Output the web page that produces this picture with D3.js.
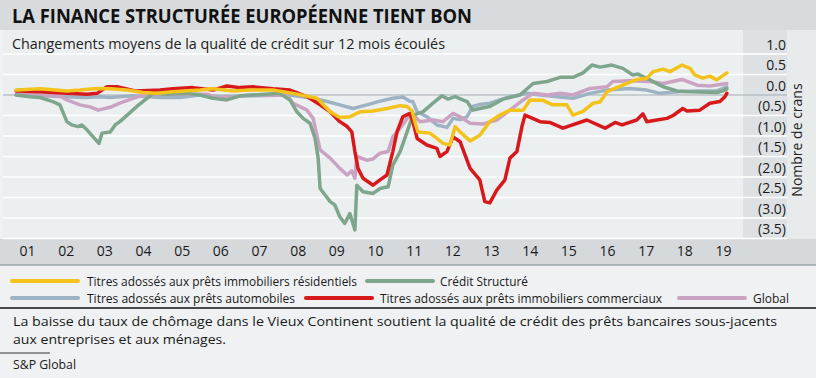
<!DOCTYPE html>
<html>
<head>
<meta charset="utf-8">
<script src="https://cdn.jsdelivr.net/npm/d3@7"></script>
<style>
  body { margin: 0; background: #eff1f2; }
  svg { display: block; font-family: "Open Sans", "Noto Sans", sans-serif; }
</style>
</head>
<body>
<div id="chart"></div>
<script>
// years shown on the x axis
const years = d3.range(2001, 2020);
const yTicks = [1.0, 0.5, 0.0, -0.5, -1.0, -1.5, -2.0, -2.5, -3.0, -3.5];

// [decimal year, change in notches]
const residentiels = [[2000.72,0.12],[2001.34,0.15],[2002.03,0.1],[2002.37,0.12],[2002.81,0.16],[2003.15,0.15],[2003.59,0.12],[2004.0,0.06],[2004.36,0.04],[2004.78,0.08],[2005.47,0.12],[2005.81,0.15],[2006.33,0.1],[2006.77,0.12],[2007.36,0.12],[2007.88,0.04],[2008.5,-0.08],[2008.84,-0.41],[2009.09,-0.55],[2009.35,-0.53],[2009.61,-0.41],[2009.95,-0.39],[2010.31,-0.33],[2010.65,-0.26],[2010.83,-0.28],[2010.96,-0.39],[2011.03,-0.65],[2011.11,-0.9],[2011.42,-0.93],[2011.6,-1.06],[2011.76,-1.18],[2011.94,-1.22],[2012.07,-0.77],[2012.2,-0.9],[2012.46,-1.12],[2012.71,-0.98],[2012.97,-0.65],[2013.23,-0.49],[2013.49,-0.37],[2013.83,-0.37],[2014.01,-0.12],[2014.34,-0.13],[2014.6,-0.24],[2014.96,-0.24],[2015.12,-0.49],[2015.38,-0.4],[2015.64,-0.2],[2015.82,-0.17],[2016.0,0.08],[2016.41,0.24],[2016.77,0.38],[2017.03,0.41],[2017.19,0.57],[2017.45,0.63],[2017.63,0.57],[2017.94,0.73],[2018.15,0.65],[2018.27,0.49],[2018.48,0.41],[2018.66,0.46],[2018.84,0.37],[2019.1,0.54]];

const credit = [[2000.72,0],[2001.08,-0.04],[2001.34,-0.06],[2001.67,-0.16],[2001.85,-0.24],[2002.03,-0.65],[2002.16,-0.73],[2002.32,-0.77],[2002.42,-0.73],[2002.55,-0.85],[2002.71,-1.02],[2002.86,-1.18],[2002.94,-0.93],[2003.15,-0.9],[2003.28,-0.73],[2003.4,-0.65],[2003.59,-0.49],[2003.84,-0.28],[2004.1,-0.08],[2004.26,0.04],[2004.62,0.02],[2005.14,0.04],[2005.47,0],[2005.81,-0.08],[2006.17,-0.12],[2006.51,-0.02],[2007.54,0.04],[2007.8,-0.12],[2007.98,-0.41],[2008.14,-0.57],[2008.32,-0.69],[2008.45,-1.06],[2008.53,-1.54],[2008.58,-2.28],[2008.71,-2.44],[2008.84,-2.6],[2008.96,-2.68],[2009.09,-2.97],[2009.22,-3.13],[2009.35,-2.89],[2009.48,-3.29],[2009.53,-2.2],[2009.69,-2.36],[2009.95,-2.4],[2010.13,-2.28],[2010.34,-2.24],[2010.46,-1.71],[2010.65,-1.38],[2010.83,-0.9],[2010.98,-0.49],[2011.24,-0.41],[2011.5,-0.2],[2011.73,-0.02],[2011.89,-0.1],[2012.07,-0.04],[2012.38,-0.16],[2012.53,-0.37],[2012.71,-0.33],[2012.97,-0.28],[2013.31,-0.1],[2013.75,0],[2014.09,0.28],[2014.45,0.33],[2014.79,0.43],[2015.12,0.43],[2015.38,0.54],[2015.61,0.73],[2015.82,0.68],[2016.13,0.73],[2016.41,0.65],[2016.67,0.49],[2016.8,0.51],[2017.11,0.37],[2017.45,0.2],[2017.81,0.1],[2018.15,0.08],[2018.84,0.06],[2019.0,0.1],[2019.1,0.15]];

const automobiles = [[2000.72,0],[2001.34,-0.02],[2002.03,-0.04],[2002.45,-0.06],[2002.89,-0.04],[2003.15,-0.06],[2003.74,-0.02],[2004.44,-0.06],[2004.96,-0.06],[2005.47,0],[2005.99,-0.04],[2006.77,-0.02],[2007.8,0],[2008.4,-0.08],[2008.76,-0.16],[2009.09,-0.24],[2009.43,-0.33],[2009.79,-0.24],[2010.13,-0.15],[2010.46,-0.08],[2010.72,-0.05],[2010.9,-0.15],[2010.98,-0.16],[2011.09,-0.41],[2011.34,-0.53],[2011.6,-0.73],[2011.86,-0.79],[2012.02,-0.57],[2012.2,-0.6],[2012.38,-0.53],[2012.53,-0.28],[2012.71,-0.23],[2012.97,-0.2],[2013.49,-0.04],[2013.93,0.04],[2014.27,0],[2014.71,-0.04],[2015.12,-0.08],[2015.56,0.04],[2016.0,0.12],[2016.59,0.16],[2017.03,0.12],[2017.37,0.04],[2017.81,0.08],[2018.33,0.1],[2018.84,0.1],[2019.1,0.2]];

const commerciaux = [[2000.72,0.1],[2001.34,0.08],[2002.03,0.04],[2002.55,0.02],[2002.81,0.04],[2003.07,0.2],[2003.33,0.2],[2003.8,0.1],[2004.44,0.12],[2004.78,0.15],[2005.29,0.18],[2005.81,0.12],[2006.17,0.22],[2006.51,0.18],[2006.84,0.2],[2007.36,0.15],[2007.8,0.12],[2008.24,-0.04],[2008.58,-0.24],[2008.84,-0.41],[2009.09,-0.65],[2009.28,-0.77],[2009.4,-0.9],[2009.48,-1.38],[2009.56,-1.79],[2009.69,-2.03],[2009.95,-2.2],[2010.13,-2.07],[2010.31,-1.95],[2010.46,-1.38],[2010.57,-0.9],[2010.72,-0.53],[2010.9,-0.45],[2010.98,-0.65],[2011.09,-1.06],[2011.34,-1.22],[2011.6,-1.3],[2011.68,-1.5],[2011.86,-1.38],[2012.02,-1.02],[2012.2,-1.14],[2012.46,-1.79],[2012.71,-2.07],[2012.84,-2.6],[2012.97,-2.63],[2013.15,-2.32],[2013.36,-2.07],[2013.49,-1.54],[2013.67,-1.38],[2013.8,-0.77],[2013.88,-0.49],[2014.27,-0.65],[2014.52,-0.67],[2014.86,-0.81],[2015.48,-0.61],[2015.95,-0.81],[2016.21,-0.67],[2016.39,-0.73],[2016.77,-0.61],[2016.93,-0.46],[2017.03,-0.65],[2017.29,-0.61],[2017.55,-0.57],[2017.71,-0.5],[2017.96,-0.33],[2018.07,-0.39],[2018.4,-0.37],[2018.66,-0.2],[2018.92,-0.16],[2019.05,-0.04],[2019.1,0.04]];

const global = [[2000.72,0.02],[2001.34,0],[2001.85,-0.02],[2002.03,-0.12],[2002.37,-0.24],[2002.63,-0.29],[2002.84,-0.37],[2003.15,-0.3],[2003.4,-0.2],[2003.74,-0.08],[2004.1,0.02],[2004.78,0.02],[2005.65,0.02],[2005.91,-0.06],[2006.33,-0.05],[2006.77,0],[2007.72,0],[2007.88,-0.2],[2008.24,-0.37],[2008.4,-0.57],[2008.58,-1.34],[2008.84,-1.54],[2009.09,-1.79],[2009.28,-1.95],[2009.4,-1.85],[2009.48,-2.03],[2009.53,-1.5],[2009.79,-1.59],[2009.95,-1.56],[2010.13,-1.42],[2010.34,-1.38],[2010.46,-1.02],[2010.65,-0.81],[2010.83,-0.57],[2010.96,-0.45],[2011.16,-0.65],[2011.5,-0.61],[2011.76,-0.65],[2012.02,-0.45],[2012.2,-0.53],[2012.46,-0.69],[2012.79,-0.71],[2013.15,-0.61],[2013.49,-0.37],[2013.83,-0.12],[2014.09,0.04],[2014.45,0],[2014.79,0.04],[2015.12,0],[2015.56,0.16],[2016.0,0.2],[2016.15,0.33],[2016.59,0.35],[2017.11,0.33],[2017.45,0.28],[2017.94,0.38],[2018.33,0.24],[2018.66,0.22],[2019.1,0.28]];

const seriesNames = ["Titres adossés aux prêts automobiles", "Global", "Crédit Structuré", "Titres adossés aux prêts immobiliers commerciaux", "Titres adossés aux prêts immobiliers résidentiels"];
const seriesData = [automobiles, global, credit, commerciaux, residentiels];
const seriesColors = ["#9db3c3", "#caa3c2", "#7ea68d", "#d7191c", "#f3c21b"];

const width = 816, height = 378;
const plotLeft = 3, panelLeft = 743, panelRight = 787;

const svg = d3.select("#chart").append("svg")
    .attr("width", width)
    .attr("height", height);

const x = d3.scaleLinear().domain([2000.5, 2019.5]).range([7.7, 742.3]);
const y = d3.scaleLinear().domain([-3.5, 1.0]).range([238.5, 54]);

// backgrounds
svg.append("rect").attr("width", width).attr("height", height).attr("fill", "#eff1f2");
svg.append("rect").attr("x", plotLeft).attr("y", 30).attr("width", panelLeft - plotLeft).attr("height", 209).attr("fill", "#eceff0");
svg.append("rect").attr("x", panelLeft).attr("y", 30).attr("width", panelRight - panelLeft).attr("height", 209).attr("fill", "#dde1e3");
svg.append("rect").attr("x", panelRight).attr("y", 30).attr("width", width - panelRight).attr("height", 209).attr("fill", "#e8ebec");
svg.append("rect").attr("width", width).attr("height", 30).attr("fill", "#d7dbdd");
svg.append("rect").attr("x", 0).attr("y", 239).attr("width", width).attr("height", 26).attr("fill", "#d5d9db");
svg.append("line").attr("x1", 0).attr("x2", width).attr("y1", 265).attr("y2", 265)
    .attr("stroke", "#9ca4a9").attr("stroke-width", 1.5);

// titles
svg.append("text").attr("x", 12).attr("y", 23)
    .attr("font-size", 20).attr("font-weight", "bold").attr("fill", "#111")
    .attr("textLength", 460).attr("lengthAdjust", "spacingAndGlyphs")
    .text("LA FINANCE STRUCTURÉE EUROPÉENNE TIENT BON");
svg.append("text").attr("x", 12).attr("y", 49)
    .attr("font-size", 14).attr("fill", "#222")
    .attr("textLength", 433).attr("lengthAdjust", "spacingAndGlyphs")
    .text("Changements moyens de la qualité de crédit sur 12 mois écoulés");

// grid
svg.append("g").selectAll("line")
    .data(yTicks)
    .join("line")
    .attr("x1", plotLeft).attr("x2", panelRight)
    .attr("y1", d => y(d)).attr("y2", d => y(d))
    .attr("stroke", d => d === 0 ? "#a3acb1" : "#ffffff")
    .attr("stroke-width", d => d === 0 ? 1 : 1.5);

// y axis on the right, labels sit above their grid line
const yAxis = svg.append("g")
    .attr("transform", `translate(${panelRight - 1},0)`)
    .call(d3.axisLeft(y).tickValues(yTicks).tickSize(0).tickPadding(0)
        .tickFormat(d => d < 0 ? `(${Math.abs(d).toFixed(1)})` : d.toFixed(1)));
yAxis.select(".domain").remove();
yAxis.selectAll("text")
    .attr("font-size", 14).attr("fill", "#1a1a1a")
    .attr("font-family", "Open Sans, sans-serif")
    .attr("dy", "-0.35em");

svg.append("text")
    .attr("transform", "translate(802,140) rotate(-90)")
    .attr("text-anchor", "middle")
    .attr("font-size", 14).attr("fill", "#222")
    .text("Nombre de crans");

// x axis
const xAxis = svg.append("g")
    .attr("transform", "translate(0,246)")
    .call(d3.axisBottom(x).tickValues(years).tickSize(0).tickPadding(0)
        .tickFormat(d => String(d % 100).padStart(2, "0")));
xAxis.select(".domain").remove();
xAxis.selectAll("text")
    .attr("font-size", 14).attr("fill", "#1a1a1a")
    .attr("font-family", "Open Sans, sans-serif");

// lines
const line = d3.line()
    .x(d => x(d[0]))
    .y(d => y(d[1]));

svg.append("g").selectAll("path")
    .data(seriesData)
    .join("path")
    .attr("d", line)
    .attr("fill", "none")
    .attr("stroke", (d, i) => seriesColors[i])
    .attr("stroke-width", 3.5)
    .attr("stroke-linejoin", "round")
    .attr("stroke-linecap", "round");

// legend (positions by hand, like the original)
const legendItems = [
    {s: 4, x: 12, y: 281, tx: 87, tw: 270},
    {s: 2, x: 367, y: 281, tx: 440, tw: 88},
    {s: 0, x: 12, y: 298, tx: 87, tw: 208},
    {s: 3, x: 306, y: 298, tx: 380, tw: 282},
    {s: 1, x: 679, y: 298, tx: 753, tw: 36}
];
const legend = svg.append("g").selectAll("g")
    .data(legendItems)
    .join("g");
legend.append("line")
    .attr("x1", d => d.x).attr("x2", d => d.x + 66)
    .attr("y1", d => d.y).attr("y2", d => d.y)
    .attr("stroke", d => seriesColors[d.s])
    .attr("stroke-width", 4)
    .attr("stroke-linecap", "round");
legend.append("text")
    .attr("x", d => d.tx).attr("y", d => d.y + 5)
    .attr("font-size", 13.5).attr("fill", "#1a1a1a")
    .attr("textLength", d => d.tw).attr("lengthAdjust", "spacingAndGlyphs")
    .text(d => seriesNames[d.s]);

// footer
svg.append("line").attr("x1", 0).attr("x2", width).attr("y1", 308).attr("y2", 308)
    .attr("stroke", "#111").attr("stroke-width", 1.5);
svg.append("text").attr("x", 13).attr("y", 326)
    .attr("font-size", 13).attr("fill", "#1a1a1a")
    .attr("textLength", 764).attr("lengthAdjust", "spacingAndGlyphs")
    .text("La baisse du taux de chômage dans le Vieux Continent soutient la qualité de crédit des prêts bancaires sous-jacents");
svg.append("text").attr("x", 13).attr("y", 344)
    .attr("font-size", 13).attr("fill", "#1a1a1a")
    .attr("textLength", 213).attr("lengthAdjust", "spacingAndGlyphs")
    .text("aux entreprises et aux ménages.");
svg.append("line").attr("x1", 0).attr("x2", 50).attr("y1", 353).attr("y2", 353)
    .attr("stroke", "#333").attr("stroke-width", 1);
svg.append("text").attr("x", 13).attr("y", 369)
    .attr("font-size", 13).attr("fill", "#1a1a1a")
    .attr("textLength", 63).attr("lengthAdjust", "spacingAndGlyphs")
    .text("S&P Global");
</script>
</body>
</html>
